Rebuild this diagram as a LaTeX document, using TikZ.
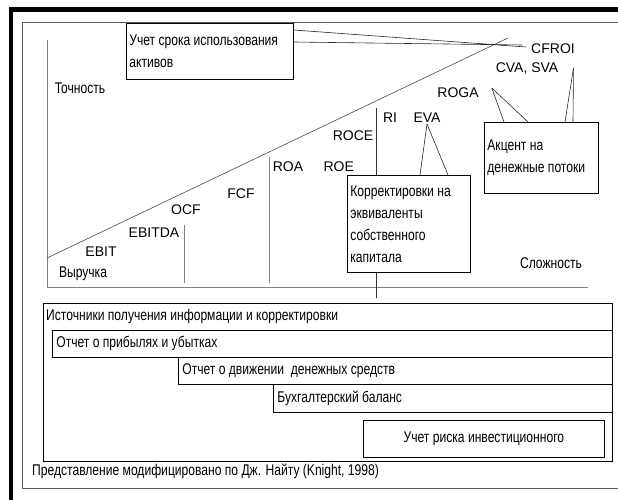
\documentclass[tikz,border=0pt]{standalone}
\usepackage{fontspec}
\setmainfont{Liberation Sans}
\newfontfamily\narrowfont[FakeStretch=0.78]{Liberation Sans}
\usepackage{tikz}
\usetikzlibrary{positioning, calc}
\tikzstyle{latin} = [font=\fontsize{14}{16}\selectfont, inner sep=1pt]
\tikzstyle{rus} = [font=\narrowfont\fontsize{15.5}{18}\selectfont, inner sep=1pt]
\tikzstyle{note} = [draw=black, thick, fill=white, anchor=north west, inner xsep=3pt, inner ysep=0pt, font=\narrowfont\fontsize{15.5}{22}\selectfont, execute at begin node={\spaceskip=0pt\xspaceskip=0pt}]
\tikzstyle{row} = [draw=black, thick, fill=white, anchor=north west, inner xsep=4pt, inner ysep=0pt, font=\narrowfont\fontsize{15.5}{18}\selectfont, execute at begin node={\spaceskip=0pt\xspaceskip=0pt}]
\tikzstyle{axis} = [draw=gray, thick]
\tikzstyle{link} = [draw=black!85, semithick]

\begin{document}
\begin{tikzpicture}[x=1pt, y=-1pt]
        \useasboundingbox (0,0) rectangle (618,500);

        % Frames
        \draw[line width=4.5pt] (11,500) -- (11,9.5) -- (618,9.5);
        \draw[gray!70!black, semithick] (618,22) -- (22,22) -- (22,488) -- (618,488);

        % Axes and growth line
        \draw[axis] (47,40) -- (47,287) -- (588,287);
        \draw[black!70, semithick] (47,258) -- (508,38);
        \draw[axis, semithick] (184,225) -- (184,283);
        \draw[axis, semithick] (269,157) -- (269,283);
        \draw[black!80, semithick] (376,108) -- (376,298);

        % Measures
        \node[rus] (tochnost) at (80,88) {Точность};
        \node[rus] (vyruchka) at (83,274) {Выручка};
        \node[latin] (ebit) at (101,252) {EBIT};
        \node[latin] (ebitda) at (154,233) {EBITDA};
        \node[latin] (ocf) at (186,210) {OCF};
        \node[latin] (fcf) at (241,194) {FCF};
        \node[latin] (roa) at (288,167) {ROA};
        \node[latin] (roe) [right=18pt of roa] {ROE};
        \node[latin] (roce) at (353,136) {ROCE};
        \node[latin] (ri) at (390,118) {RI};
        \node[latin] (eva) at (427,118) {EVA};
        \node[latin] (roga) at (458,93) {ROGA};
        \node[latin] (cva) at (527,69) {CVA, SVA};
        \node[latin] (cfroi) at (553,49) {CFROI};
        \node[rus] (slozhnost) at (551,263) {Сложность};

        % Comment boxes
        \node[note, text width=161pt, minimum height=56pt] (srok_box) at (126,23) {Учет срока использования\\активов};
        \node[note, text width=117pt, minimum height=97pt] (korr_box) at (347,175) {Корректировки на\\эквиваленты\\собственного\\капитала};
        \node[note, text width=108pt, minimum height=71pt] (akcent_box) at (484,122) {Акцент на\\денежные потоки};

        \draw[link] ([yshift=-7pt]srok_box.north east) -- ([shift={(-4pt,2pt)}]cfroi.west);
        \draw[link] ([yshift=-19pt]srok_box.north east) -- ([shift={(-8pt,4pt)}]cfroi.west);
        \draw[link] (eva.south) -- ([xshift=73pt]korr_box.north west);
        \draw[link] (eva.south) -- ([xshift=101pt]korr_box.north west);
        \draw[link] ([shift={(12pt,5pt)}]roga.east) -- ([xshift=20pt]akcent_box.north west);
        \draw[link] ([shift={(12pt,5pt)}]roga.east) -- ([xshift=44pt]akcent_box.north west);
        \draw[link] ([shift={(14pt,1pt)}]cva.east) -- ([xshift=81pt]akcent_box.north west);
        \draw[link] ([shift={(14pt,1pt)}]cva.east) -- ([xshift=89pt]akcent_box.north west);

        % Sources of information
        \draw[black, thick] (43,303) rectangle (612,461);
        \node[rus, anchor=west] (src_label) at (45,316) {Источники получения информации и корректировки};
        \node[row, text width=552pt, minimum height=27pt] (pl_row) at (52,330) {Отчет о прибылях и убытках};
        \node[row, text width=426pt, minimum height=27pt] (cf_row) at (178,357) {Отчет о движении\ \ денежных средств};
        \node[row, text width=331pt, minimum height=28pt] (bal_row) at (273,384) {Бухгалтерский баланс};
        \node[row, minimum width=241pt, minimum height=37pt] (risk_row) at (363,420) {Учет риска инвестиционного};

        \node[rus, anchor=west] (source_note) at (31,471) {Представление модифицировано по Дж. Найту (Knight, 1998)};

    \end{tikzpicture}
\end{document}
